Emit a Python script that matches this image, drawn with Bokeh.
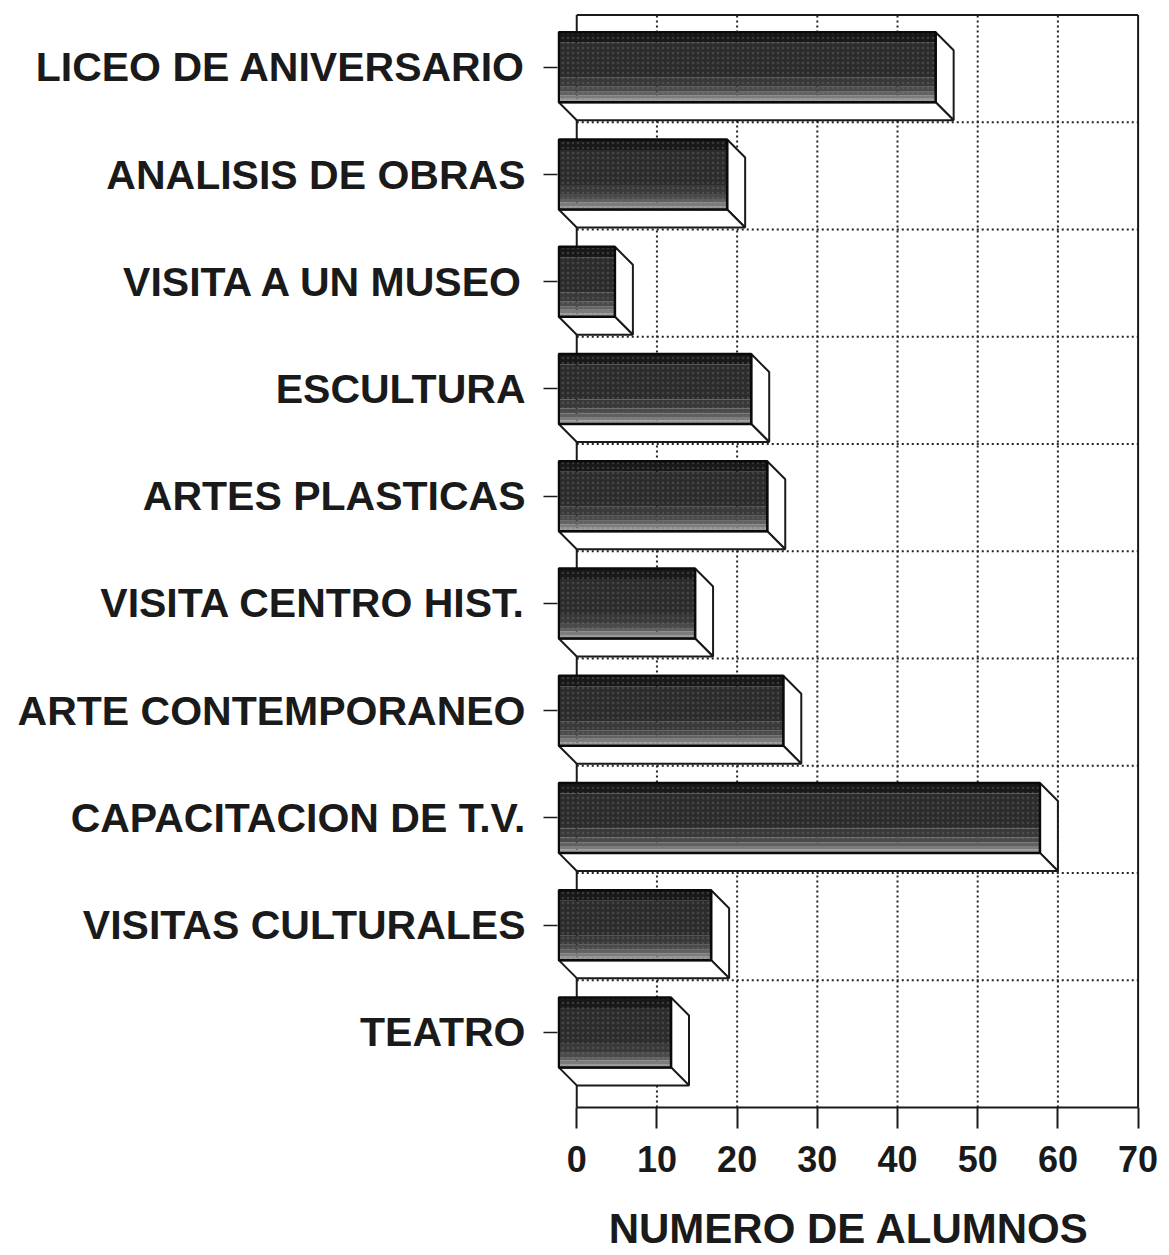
from bokeh.plotting import figure
from bokeh.models import FixedTicker, Range1d
from bokeh.embed import file_html
from bokeh.resources import INLINE

# ---------------- data ----------------
categories = ["TEATRO", "VISITAS CULTURALES", "CAPACITACION DE T.V.",
              "ARTE CONTEMPORANEO", "VISITA CENTRO HIST.", "ARTES PLASTICAS",
              "ESCULTURA", "VISITA A UN MUSEO", "ANALISIS DE OBRAS",
              "LICEO DE ANIVERSARIO"]
alumnos = [14, 19, 60, 28, 17, 26, 24, 7, 21, 47]
x_ticks = [0, 10, 20, 30, 40, 50, 60, 70]
x_title = "NUMERO DE ALUMNOS"

# ---------------- style constants ----------------
FONT = "Liberation Sans"
DX = 2.24      # 3D depth in x units
DY = 0.168     # 3D depth in y units
H = 0.326      # half height of the front face
SLOT = H + DY + 0.019
XMAX = x_ticks[-1]
n = len(categories)
y_top = (n - 1) + 1 - SLOT
Y0 = -0.70

p = figure(width=1165, height=1255,
           x_range=Range1d(-2.4, XMAX + 0.3), y_range=Range1d(Y0, y_top + 0.033),
           output_backend="svg", toolbar_location=None,
           min_border_left=557, min_border_right=25,
           min_border_top=11, min_border_bottom=148)
p.outline_line_color = None
p.grid.visible = False
p.background_fill_color = "white"
p.border_fill_color = "white"

ink = "#1a1a1a"

# ---------- back wall: dotted grid ----------
grid_x = [t for t in x_ticks if 0 < t < XMAX]
p.segment(x0=grid_x, y0=[Y0] * len(grid_x), x1=grid_x, y1=[y_top] * len(grid_x),
          line_color="#222222", line_width=2, line_dash="2 3")
grid_y = [k + 1 - SLOT for k in range(n - 1)]
p.segment(x0=[0] * len(grid_y), y0=grid_y, x1=[XMAX] * len(grid_y), y1=grid_y,
          line_color="#222222", line_width=2, line_dash="2 3")

# solid frame of the back wall
p.segment(x0=[0, 0, XMAX], y0=[Y0, y_top, Y0], x1=[0, XMAX, XMAX], y1=[y_top, y_top, y_top],
          line_color=ink, line_width=2)

# ---------- 3D bars ----------
side_xs, side_ys, bot_xs, bot_ys = [], [], [], []
for k, v in enumerate(alumnos):
    side_xs.append([v - DX, v, v, v - DX])
    side_ys.append([k + H, k + H - DY, k - H - DY, k - H])
    bot_xs.append([-DX, v - DX, v, 0])
    bot_ys.append([k - H, k - H, k - H - DY, k - H - DY])
p.patches(xs=side_xs, ys=side_ys, fill_color="white", line_color=ink, line_width=2)
p.patches(xs=bot_xs, ys=bot_ys, fill_color="white", line_color=ink, line_width=2)

# front face: dark with lighter band at the bottom (shading strips)
strips = [(0.00, 0.05, "#9a9a9a"), (0.05, 0.10, "#7c7c7c"), (0.10, 0.15, "#606060"),
          (0.15, 0.22, "#4a4a4a"), (0.22, 0.35, "#393939"), (0.35, 0.85, "#2c2c2c"),
          (0.85, 1.00, "#181818")]
L, R, B, T, C = [], [], [], [], []
for k, v in enumerate(alumnos):
    for f0, f1, col in strips:
        L.append(-DX)
        R.append(v - DX)
        B.append(k - H + 2 * H * f0)
        T.append(k - H + 2 * H * f1)
        C.append(col)
p.quad(left=L, right=R, bottom=B, top=T, fill_color=C, line_color=None)
p.quad(left=[-DX] * n, right=[v - DX for v in alumnos],
       bottom=[k - H for k in range(n)], top=[k + H for k in range(n)],
       fill_color=None, line_color="#0a0a0a", line_width=2.5,
       hatch_pattern="dot", hatch_color="#777777", hatch_alpha=0.35, hatch_scale=5)

# ---------- axes ----------
xa = p.xaxis[0]
xa.ticker = FixedTicker(ticks=x_ticks)
xa.bounds = (0, XMAX)
xa.axis_line_color = ink
xa.axis_line_width = 2
xa.major_tick_out = 21
xa.major_tick_in = 0
xa.major_tick_line_color = ink
xa.major_tick_line_width = 2
xa.minor_tick_line_color = None
xa.major_label_text_font = FONT
xa.major_label_text_font_style = "bold"
xa.major_label_text_font_size = "36px"
xa.major_label_text_color = ink
xa.major_label_standoff = 17
xa.axis_label = x_title
xa.axis_label_text_font = FONT
xa.axis_label_text_font_style = "bold"
xa.axis_label_text_font_size = "42px"
xa.axis_label_text_color = ink
xa.axis_label_standoff = 30

ya = p.yaxis[0]
ya.ticker = FixedTicker(ticks=list(range(n)))
ya.major_label_overrides = {k: name for k, name in enumerate(categories)}
ya.axis_line_color = None
ya.major_tick_out = 14
ya.major_tick_in = 0
ya.major_tick_line_color = ink
ya.major_tick_line_width = 1.5
ya.minor_tick_line_color = None
ya.major_label_text_font = FONT
ya.major_label_text_font_style = "bold"
ya.major_label_text_font_size = "41px"
ya.major_label_text_color = ink
ya.major_label_standoff = 18

open("out.html", "w").write(file_html(p, INLINE))
